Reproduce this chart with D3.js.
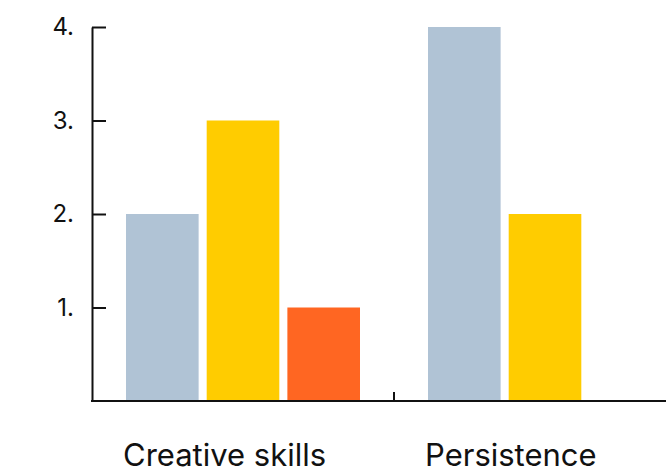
<!DOCTYPE html>
<html>
<head>
<meta charset="utf-8">
<script src="https://cdn.jsdelivr.net/npm/d3@7"></script>
<style>
  body { margin: 0; background: #fff; }
  text { font-family: Inter, Roboto, sans-serif; fill: #111; }
</style>
</head>
<body>
<div id="chart"></div>
<script>
// data
const categories = ["Creative skills", "Persistence"];
const seriesNames = ["A", "B", "C"];
const seriesColors = ["#b0c3d5", "#ffcc00", "#ff6622"];
const valuesA = [2, 4];
const valuesB = [3, 2];
const valuesC = [1, null];
const yTicks = [1, 2, 3, 4];

const width = 666, height = 471;
const margin = { top: 27, left: 92, bottom: 70 };

const svg = d3.select("#chart").append("svg")
  .attr("width", width).attr("height", height);

const x = d3.scaleBand().domain(categories)
  .range([margin.left, margin.left + 302 * categories.length]);
const inner = d3.scaleBand().domain(seriesNames)
  .range([34, 302 - 34]).paddingInner(0.1);
const y = d3.scaleLinear().domain([0, 4])
  .range([height - margin.bottom, margin.top]);

const series = [valuesA, valuesB, valuesC];

// bars
categories.forEach((cat, i) => {
  series.forEach((vals, s) => {
    const v = vals[i];
    if (v == null) return;
    svg.append("rect")
      .attr("x", x(cat) + inner(seriesNames[s]))
      .attr("y", y(v))
      .attr("width", inner.bandwidth())
      .attr("height", y(0) - y(v))
      .attr("fill", seriesColors[s]);
  });
});

// y axis
const yAxis = svg.append("g")
  .attr("transform", `translate(${margin.left},0)`)
  .call(d3.axisLeft(y).tickValues(yTicks)
    .tickSizeInner(-14).tickSizeOuter(0).tickPadding(18)
    .tickFormat(d => d + "."));
yAxis.select(".domain").attr("stroke", "#111").attr("stroke-width", 2);
yAxis.selectAll(".tick line").attr("stroke", "#111").attr("stroke-width", 2);
yAxis.selectAll(".tick text")
  .attr("font-size", "24px").attr("font-family", "Inter, Roboto, sans-serif")
  .attr("fill", "#111");

// x axis
svg.append("line")
  .attr("x1", margin.left - 1).attr("x2", width)
  .attr("y1", y(0)).attr("y2", y(0))
  .attr("stroke", "#111").attr("stroke-width", 2);

svg.selectAll(".xtick")
  .data(categories.slice(1))
  .join("line")
  .attr("x1", d => x(d)).attr("x2", d => x(d))
  .attr("y1", y(0)).attr("y2", y(0) - 9)
  .attr("stroke", "#111").attr("stroke-width", 2);

svg.selectAll(".xlabel")
  .data(categories)
  .join("text")
  .attr("x", d => x(d) + 31)
  .attr("y", y(0) + 65)
  .attr("font-size", "31px")
  .text(d => d);
</script>
</body>
</html>
